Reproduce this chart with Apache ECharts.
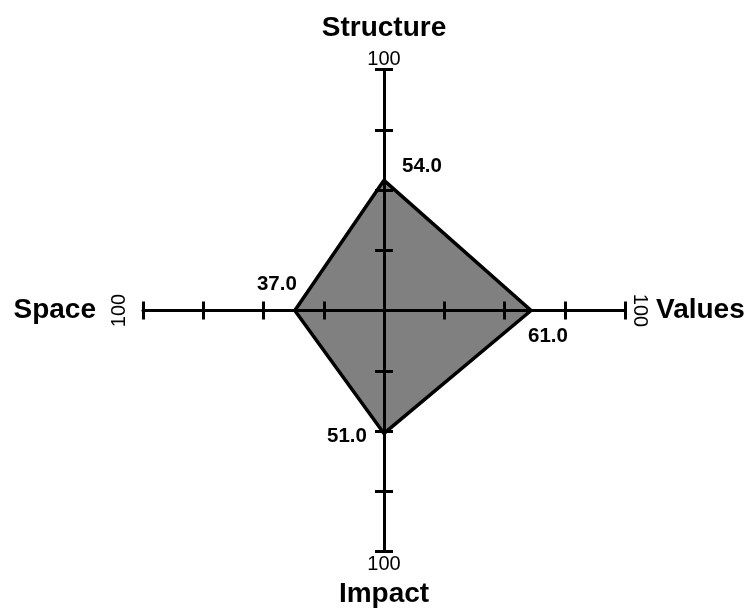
<!DOCTYPE html>
<html>
<head>
<meta charset="utf-8">
<title>Radar</title>
<script src="https://cdn.jsdelivr.net/npm/echarts@6/dist/echarts.min.js"></script>
<style>
  html, body { margin: 0; padding: 0; background: #fff; }
  #chart { width: 749px; height: 610px; }
</style>
</head>
<body>
<div id="chart"></div>
<script>
  // data
  var indicators = ['Structure', 'Space', 'Impact', 'Values'];
  var scores = [54, 37, 51, 61];
  var axisMax = 100;
  var endLabel = '100';

  // layout per axis (same order as indicators)
  var nameGaps = [27, 47, 29, 31];
  var endGaps = [0, 14, 3, 5];
  var endRotate = [0, 90, 0, -90];
  var labelOffsets = [[38, -14], [-18, -26], [-37, 3], [17, 26]];

  var font = 'Liberation Sans, Arial, sans-serif';
  var center = [384, 310.5];
  var radius = 241;

  var myChart = echarts.init(document.getElementById('chart'));

  // ticks on one side of each axis
  var radarMain = {
    z: 5,
    center: center,
    radius: radius,
    startAngle: 90,
    splitNumber: 4,
    shape: 'polygon',
    indicator: indicators.map(function (name, i) {
      return { name: name, max: axisMax, min: 0, nameGap: nameGaps[i] };
    }),
    axisName: { color: '#000', fontSize: 28, fontWeight: 'bold', fontFamily: font },
    axisLine: { lineStyle: { color: '#000', width: 3 } },
    axisTick: { show: true, length: 9, lineStyle: { color: '#000', width: 3 } },
    axisLabel: { show: false },
    splitLine: { show: false },
    splitArea: { show: false }
  };

  // ticks on the other side, plus the "100" at each end
  var radarEnds = {
    z: 5,
    center: center,
    radius: radius,
    startAngle: 90,
    splitNumber: 4,
    shape: 'polygon',
    indicator: indicators.map(function (name, i) {
      return { name: endLabel, max: axisMax, min: 0, nameGap: endGaps[i], nameRotate: endRotate[i] };
    }),
    axisName: { color: '#000', fontSize: 20, fontFamily: font },
    axisLine: { show: false },
    axisTick: { show: true, length: -9, lineStyle: { color: '#000', width: 3 } },
    axisLabel: { show: false },
    splitLine: { show: false },
    splitArea: { show: false }
  };

  var series = [{
    // filled area
    type: 'radar',
    radarIndex: 0,
    z: 1,
    symbol: 'none',
    silent: true,
    lineStyle: { width: 0, opacity: 0 },
    areaStyle: { color: '#808080', opacity: 1 },
    data: [{ value: scores }]
  }, {
    // outline, drawn over the fill
    type: 'radar',
    radarIndex: 0,
    z: 2,
    symbol: 'none',
    silent: true,
    lineStyle: { color: '#000', width: 3.5, join: 'miter' },
    data: [{ value: scores }]
  }];

  // one label-only series per vertex, so each label can sit where it does in the picture
  scores.forEach(function (v, k) {
    series.push({
      type: 'radar',
      radarIndex: 0,
      z: 6,
      symbol: 'circle',
      symbolSize: 1,
      silent: true,
      itemStyle: { color: 'transparent' },
      lineStyle: { width: 0, opacity: 0 },
      label: {
        show: true,
        position: 'inside',
        offset: labelOffsets[k],
        color: '#000',
        fontSize: 20.5,
        fontWeight: 'bold',
        fontFamily: font,
        formatter: function (p) {
          var idx = p.dimensionIndex != null ? p.dimensionIndex : scores.indexOf(p.value);
          return idx === k ? scores[k].toFixed(1) : '';
        }
      },
      data: [{ value: scores }]
    });
  });

  var option = {
    animation: false,
    radar: [radarMain, radarEnds],
    series: series
  };

  myChart.setOption(option);
</script>
</body>
</html>
